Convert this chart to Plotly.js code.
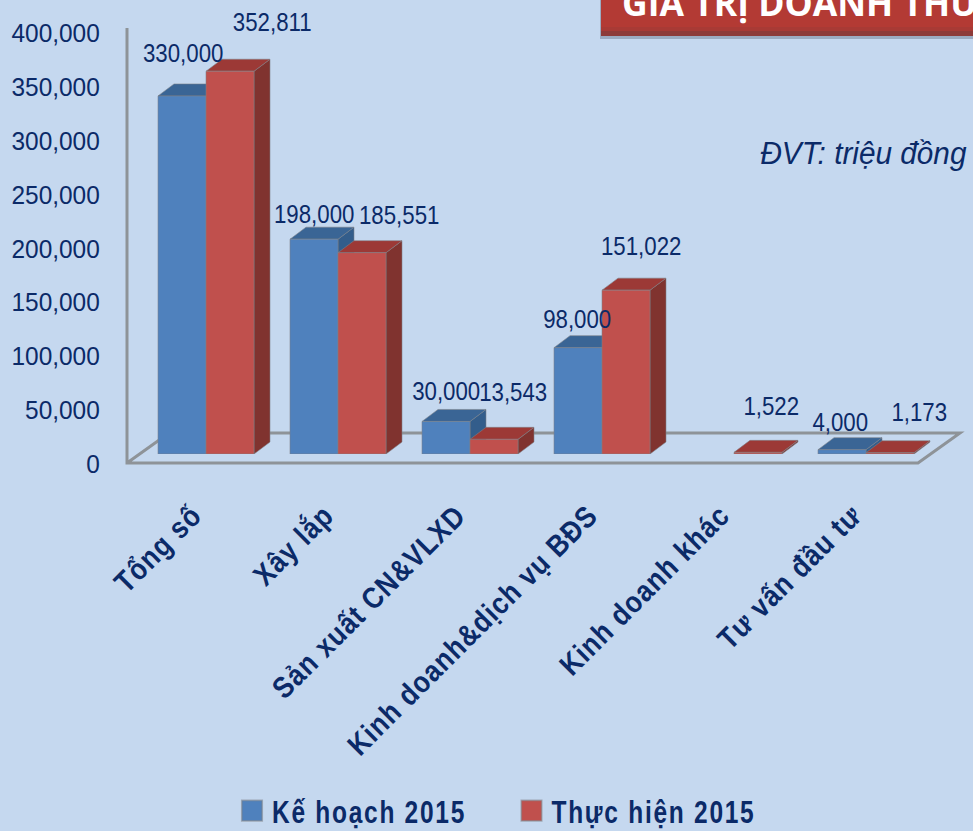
<!DOCTYPE html>
<html>
<head>
<meta charset="utf-8">
<script src="https://cdn.plot.ly/plotly-3.0.1.min.js"></script>
<style>
html,body{margin:0;padding:0;background:#c5d8ef;overflow:hidden}
.legendpoints path{transform:translate(20px,0) scale(1.7)}
.legendtext{letter-spacing:2.2px}
.xtick text{letter-spacing:1.2px}
</style>
</head>
<body>
<div id="chart" style="width:973px;height:831px"></div>
<script>
// ---- data ----
const categories = ["Tổng số","Xây lắp","Sản xuất CN&VLXD","Kinh doanh&dịch vụ BĐS","Kinh doanh khác","Tư vấn đầu tư"];
const plan2015   = [330000,198000,30000,98000,null,4000];
const actual2015 = [352811,185551,13543,151022,1522,1173];
const yTicks     = [0,50000,100000,150000,200000,250000,300000,350000,400000];
const seriesNames = ["Kế hoạch 2015","Thực hiện 2015"];

// ---- layout constants (pixels of the picture) ----
const W=973,H=831,L=127,R=960,T=28,B=463;
const barBase=454, pxPerUnit=1.085/1000, tickPx=431/400000;
const catStep=132, cat0=206, depthX=16, depthY=12;
const xs=categories.map((_,i)=>i);
const xRange=[(L-cat0)/catStep,(R-cat0)/catStep];
const barW=48/catStep, dX=depthX/catStep, dY=depthY/pxPerUnit;
const INK="#0b2a68", GRID="#8e9398";
const FONT="'Liberation Sans',sans-serif";

const px=v=>(v-L)/(R-L), py=v=>(B-v)/(B-T);
function paperPath(pts){return pts.map((p,i)=>(i?'L':'M')+px(p[0])+','+py(p[1])).join(' ');}

// 3-D faces computed from the data
function depthShapes(vals,side,topCol,sideCol){
  const out=[];
  vals.forEach((v,i)=>{
    if(v==null) return;
    const x0=i+(side<0?-barW:0), x1=x0+barW;
    const common={type:'path',xref:'x',yref:'y2',layer:'below',line:{color:'rgba(125,130,135,.55)',width:1}};
    out.push(Object.assign({},common,{fillcolor:sideCol,
      path:`M${x1},0 L${x1+dX},${dY} L${x1+dX},${v+dY} L${x1},${v} Z`}));
    out.push(Object.assign({},common,{fillcolor:topCol,
      path:`M${x0},${v} L${x0+dX},${v+dY} L${x1+dX},${v+dY} L${x1},${v} Z`}));
  });
  return out;
}

const frame=[
 {type:'path',xref:'paper',yref:'paper',layer:'below',line:{color:GRID,width:3},fillcolor:'rgba(0,0,0,0)',
  path:paperPath([[127,28],[127,463],[918,463],[960,433],[169,433],[127,463]])}
];
const rect=(x0,x1,y0,y1,c)=>({type:'rect',xref:'paper',yref:'paper',layer:'below',line:{width:0},fillcolor:c,
  x0:px(x0),x1:px(x1),y0:py(y0),y1:py(y1)});
const banner=[
 rect(600,985,-5,39,'rgba(60,70,90,.3)'),
 rect(601,985,-5,36,'#b33a34'),
 rect(601,985,27,31,'#a83a35'),
 rect(601,985,31,36,'#8d3b39')
];

const traces=[
 {type:'bar',name:seriesNames[0],x:xs,y:plan2015,yaxis:'y2',marker:{color:'#4f81bd',line:{color:'rgba(125,130,135,.55)',width:1}},hoverinfo:'y'},
 {type:'bar',name:seriesNames[1],x:xs,y:actual2015,yaxis:'y2',marker:{color:'#c0504d',line:{color:'rgba(125,130,135,.55)',width:1}},hoverinfo:'y'},
 {type:'scatter',x:yTicks.map(()=>null),y:yTicks,yaxis:'y',mode:'markers',showlegend:false,hoverinfo:'skip'}
];

// value labels
const fmt=v=>v.toLocaleString('en-US');
const labelShiftPlan  =[[1,43],[0,25],[0,30],[-1,29],null,[-2,28]];
const labelShiftActual=[[42,49],[37,38],[19,47],[15,44],[13,46],[29,41]];
const labelAnn=[];
function addLabels(vals,shifts,off){
  vals.forEach((v,i)=>{
    if(v==null) return;
    labelAnn.push({xref:'x',yref:'y2',x:i+off,y:v,text:fmt(v),showarrow:false,xanchor:'center',yanchor:'middle',
      xshift:shifts[i][0],yshift:shifts[i][1],font:{family:FONT,size:25,color:INK}});
  });
}
addLabels(plan2015,labelShiftPlan,-barW/2);
addLabels(actual2015,labelShiftActual,barW/2);

const layout={
 width:W,height:H,
 paper_bgcolor:'#c5d8ef',plot_bgcolor:'rgba(0,0,0,0)',
 margin:{l:L,r:W-R,t:T,b:H-B,pad:0,autoexpand:false},
 title:{text:'GIÁ TRỊ DOANH THU',x:622/W,xanchor:'left',y:1-16/H,yanchor:'bottom',
        font:{family:"'Open Sans',sans-serif",size:35.5,color:'#ffffff',weight:700}},
 barmode:'group',bargap:1-2*barW,bargroupgap:0,
 showlegend:true,
 legend:{orientation:'h',x:px(232),xanchor:'left',y:py(784),yanchor:'top',
         font:{family:FONT,size:31,color:INK,weight:700},bgcolor:'rgba(0,0,0,0)',itemclick:false,itemdoubleclick:false,
         traceorder:'normal',entrywidth:234.5,entrywidthmode:'pixels'},
 xaxis:{type:'linear',range:xRange,tickmode:'array',tickvals:xs,ticktext:categories,tickangle:-45,
        showgrid:false,zeroline:false,showline:false,ticks:'outside',ticklen:22,tickcolor:'rgba(0,0,0,0)',
        tickfont:{family:FONT,size:30,color:INK,weight:700},automargin:false,fixedrange:true},
 yaxis:{range:[0,(B-T)/tickPx],tickmode:'array',tickvals:yTicks,tickformat:',',showgrid:false,zeroline:false,showline:false,
        ticks:'outside',ticklen:21,tickcolor:'rgba(0,0,0,0)',tickfont:{family:FONT,size:26,color:INK},automargin:false,fixedrange:true},
 yaxis2:{domain:[(B-barBase)/(B-T),1],range:[0,(barBase-T)/pxPerUnit],visible:false,anchor:'x',fixedrange:true},
 shapes:banner.concat(frame,depthShapes(plan2015,-1,'#3a6595','#335d8b'),depthShapes(actual2015,1,'#9c3936','#80332f')),
 annotations:labelAnn.concat([
  {xref:'paper',yref:'paper',x:px(973),y:py(153),xanchor:'right',yanchor:'middle',showarrow:false,
   text:'<i>ĐVT: triệu đồng</i>',font:{family:FONT,size:31,color:INK}}
 ])
};

// narrow the glyphs about each text's own anchor (the reference face is condensed)
function narrow(sel,sx,dx,dy){
  document.querySelectorAll(sel).forEach(t=>{
    const f=typeof sx==='function'?sx(t):sx;
    const x=+t.getAttribute('x')||0, y=+t.getAttribute('y')||0, old=t.getAttribute('transform')||'';
    t.setAttribute('transform',`translate(${dx||0},${dy||0}) ${old} translate(${x},${y}) scale(${f},1) translate(${-x},${-y})`);
  });
}
Plotly.newPlot('chart',traces,layout,{displayModeBar:false,responsive:false}).then(()=>{
  narrow('.ytick text',.94,0,1);
  narrow('.xtick text',.87,-13,0);
  narrow('.annotation-text',t=>t.textContent.startsWith('ĐVT')?.96:.89);
  narrow('.legendtext',.79);
});
</script>
</body>
</html>
